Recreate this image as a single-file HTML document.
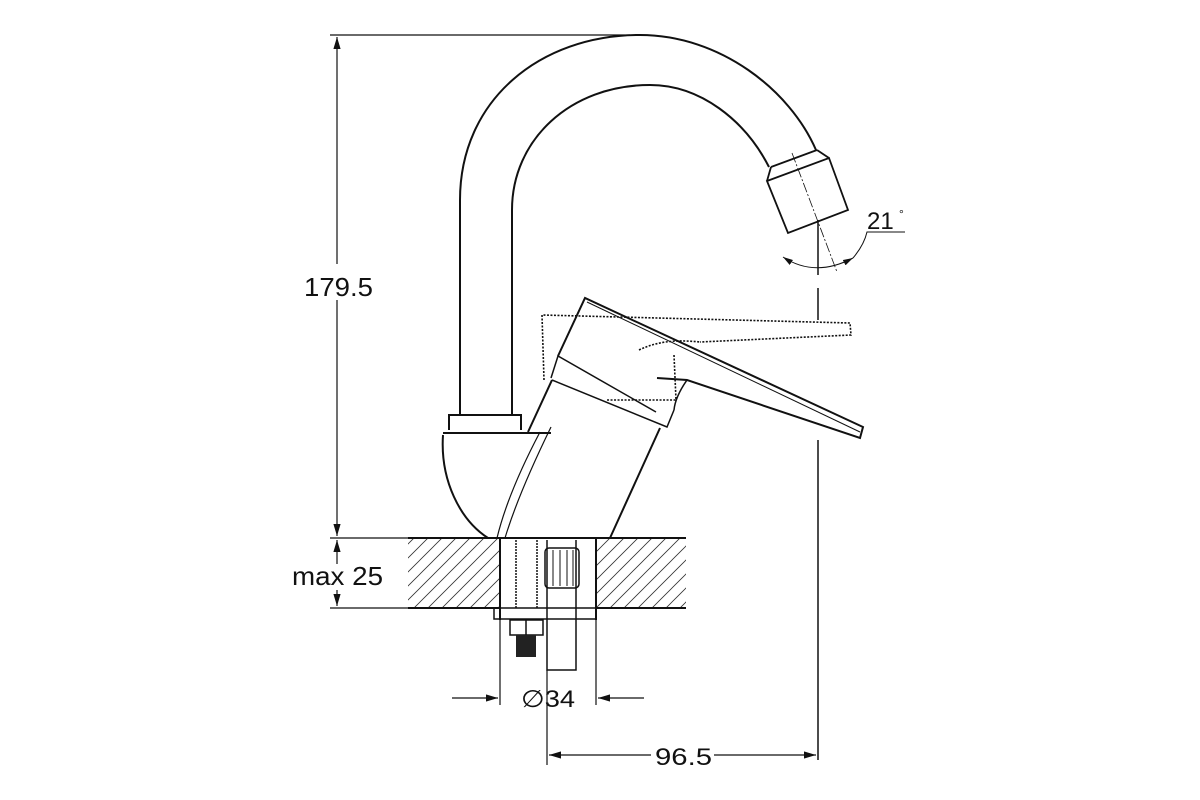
<!DOCTYPE html>
<html><head><style>body{margin:0;background:#fff}svg{display:block}</style></head><body>
<svg width="1200" height="800" viewBox="0 0 1200 800" xmlns="http://www.w3.org/2000/svg" font-family="Liberation Sans, sans-serif">
<defs>
<pattern id="h" width="14" height="14" patternUnits="userSpaceOnUse"><path d="M-2,16 L16,-2 M-2,2 L2,-2 M12,16 L16,12" stroke="#333" stroke-width="0.8"/></pattern>
<marker id="a" viewBox="0 0 10 6" refX="10" refY="3" markerWidth="10" markerHeight="6" orient="auto-start-reverse"><path d="M0,0 L10,3 L0,6z" fill="#111"/></marker>
</defs>
<g fill="none" stroke="#111" stroke-width="2">
<rect x="408" y="538" width="92" height="70" fill="url(#h)" stroke="none"/>
<rect x="596" y="538" width="90" height="70" fill="url(#h)" stroke="none"/>
<path d="M408,538 H686 M408,608 H500 M596,608 H686 M500,538 V620 M596,538 V620"/>
<rect x="494" y="608" width="102" height="11" stroke-width="1.5"/>
<path d="M516,540 V608 M537,540 V608" stroke-dasharray="2,1" stroke-width="1.5"/>
<rect x="510" y="620" width="33" height="15" stroke-width="1.5"/><path d="M526,620 V635" stroke-width="1.5"/>
<rect x="516" y="635" width="20" height="22" fill="#222" stroke="none"/>
<path d="M547,540 V670 H576 V540" stroke-width="1.5"/>
<rect x="545" y="548" width="34" height="40" rx="4" stroke-width="1.5"/>
<path d="M553,550 V586 M560,550 V586 M567,550 V586 M573,550 V586" stroke-width="1"/>
<path d="M460,415 L460,200 C460,100 540,35 640,35 C720,35 790,90 816,150"/>
<path d="M512,415 L512,210 C512,140 570,85 650,85 C700,85 745,120 769,167"/>
<path d="M771,167 L817,150 M767,181 L829,158 L848,210 L788,233 Z M771,167 L767,181 M817,150 L829,158" stroke-width="1.8"/>
<path d="M792,153 L837,272" stroke-width="0.8" stroke-dasharray="10,2,2,2"/>
<path d="M449,430 V415 H521 V430 M443,433 H551 M443,435 C440,480 460,520 488,538"/>
<path d="M551,427 C530,470 515,505 505,538 M540,432 C520,470 505,505 497,538" stroke-width="1.2"/>
<path d="M528,432 L552,380 M660,428 L610,538" />
<path d="M552,380 L667,427 L674,410 M551,378 L558,356 L656,412" stroke-width="1.5"/>
<path d="M558,356 L585,298 L863,427 L860,438 L687,380 L657,378" />
<path d="M587,302 L860,432" stroke-width="1"/>
<path d="M687,380 C680,390 675,400 674,410" stroke-width="1.5"/>
<path d="M544,380 L542,315 L850,323 L851,335 L700,342 M674,355 L676,400 L606,400 M639,350 C660,340 680,340 700,342" stroke-width="1.6" stroke-dasharray="2,1.5"/>
<path d="M330,35 H630" stroke-width="1.2"/>
<path d="M330,538 H408" stroke-width="1.2"/>
<path d="M330,608 H408" stroke-width="1.2"/>
<path d="M337,264 V37" stroke-width="1.2" marker-end="url(#a)"/>
<path d="M337,300 V536" stroke-width="1.2" marker-end="url(#a)"/>
<path d="M337,564 V540" stroke-width="1.2" marker-end="url(#a)"/>
<path d="M337,590 V606" stroke-width="1.2" marker-end="url(#a)"/>
<path d="M818,220 V275 M818,288 V320 M818,440 V760" stroke-width="1.5"/>
<path d="M547,670 V765" stroke-width="1.2"/>
<path d="M500,620 V705 M596,620 V705" stroke-width="1.2"/>
<path d="M452,698 H498" stroke-width="1.2" marker-end="url(#a)"/>
<path d="M644,698 H598" stroke-width="1.2" marker-end="url(#a)"/>
<path d="M651,755 H549" stroke-width="1.2" marker-end="url(#a)"/>
<path d="M714,755 H816" stroke-width="1.2" marker-end="url(#a)"/>
<path d="M783,257 Q815,278 853,258" stroke-width="1" marker-start="url(#a)" marker-end="url(#a)"/>
<path d="M853,258 Q864,245 867,232 H905" stroke-width="1"/>
</g>
<g fill="#111">
<text x="304" y="296" font-size="26" textLength="69" lengthAdjust="spacingAndGlyphs">179.5</text>
<text x="292" y="585" font-size="26" textLength="91" lengthAdjust="spacingAndGlyphs">max 25</text>
<text x="521" y="707" font-size="24" textLength="54" lengthAdjust="spacingAndGlyphs">∅34</text>
<text x="655" y="765" font-size="24" textLength="57" lengthAdjust="spacingAndGlyphs">96.5</text>
<text x="867" y="229" font-size="24">21</text>
<text x="899" y="218" font-size="12">°</text>
</g>
</svg>
</body></html>
